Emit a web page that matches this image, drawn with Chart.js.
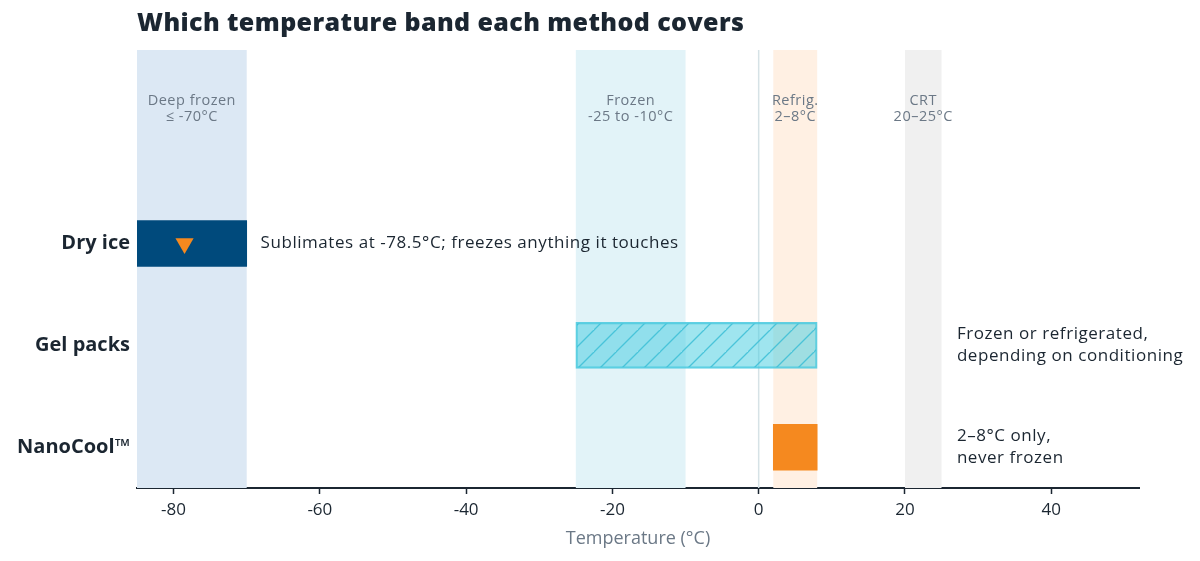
<!DOCTYPE html>
<html>
<head>
<meta charset="utf-8">
<script src="https://cdn.jsdelivr.net/npm/chart.js@4"></script>
<style>
html,body{margin:0;padding:0;background:#fff;}
#wrap{width:1200px;height:561px;position:relative;}
</style>
</head>
<body>
<div id="wrap"><canvas id="c"></canvas></div>
<script>
// ---- data ----
const titleText = "Which temperature band each method covers";
const methods = ["NanoCool™", "Gel packs", "Dry ice"];      // y = 0,1,2
const methodPos = [0, 1, 2];
const rangeMin = [2, -25, -85];
const rangeMax = [8, 8, -70];
const markerX = [-78.5];
const markerY = [2];

const bandLine1 = ["Deep frozen", "Frozen", "Refrig.", "CRT"];
const bandLine2 = ["≤ -70°C", "-25 to -10°C", "2–8°C", "20–25°C"];
const bandMin = [-85, -25, 2, 20];
const bandMax = [-70, -10, 8, 25];
const bandColors = ["#dce8f4", "#e2f3f8", "#fff0e3", "#f0f0f0"];

const noteLines = [["Sublimates at -78.5°C; freezes anything it touches"],
                   ["Frozen or refrigerated,", "depending on conditioning"],
                   ["2–8°C only,", "never frozen"]];
const noteX = [-68.1, 27.1, 27.1];
const noteY = [2, 1, 0];

const xTicks = [-80, -60, -40, -20, 0, 20, 40];
const xMin = -85, xMax = 52;

const FONT = "'Open Sans', 'DejaVu Sans', sans-serif";
const DARK = "#1b2631";
const GREY = "#6b7886";

// hatch pattern for gel packs
function makeHatch() {
  const s = 22;
  const c = document.createElement('canvas');
  c.width = s; c.height = s;
  const g = c.getContext('2d');
  g.fillStyle = "rgba(70,205,225,0.52)";
  g.fillRect(0, 0, s, s);
  g.strokeStyle = "rgba(60,190,215,0.85)";
  g.lineWidth = 1.3;
  g.beginPath();
  g.moveTo(-2, s + 2); g.lineTo(s + 2, -2);
  g.moveTo(-2 - s, s + 2); g.lineTo(2, -2);
  g.moveTo(s - 2, 2 * s + 2); g.lineTo(2 * s + 2, s - 2);
  g.stroke();
  return g.createPattern(c, 'repeat');
}
const hatch = makeHatch();

const barData = methodPos.map((p, i) => ({ y: p, x: [rangeMin[i], rangeMax[i]] }));
const markerData = markerX.map((x, i) => ({ x: x, y: markerY[i] }));

function spaced(ctx, px) { if ('letterSpacing' in ctx) ctx.letterSpacing = px + 'px'; }

const bandsPlugin = {
  id: 'bands',
  beforeDatasetsDraw(chart) {
    const { ctx, chartArea: a, scales: { x } } = chart;
    ctx.save();
    for (let i = 0; i < bandMin.length; i++) {
      const l = x.getPixelForValue(bandMin[i]);
      const r = x.getPixelForValue(bandMax[i]);
      ctx.fillStyle = bandColors[i];
      ctx.fillRect(l, a.top, r - l, a.bottom - a.top);
    }
    // zero line
    const z = x.getPixelForValue(0);
    ctx.strokeStyle = "#d6e2e6";
    ctx.lineWidth = 1.5;
    ctx.beginPath(); ctx.moveTo(z, a.top); ctx.lineTo(z, a.bottom); ctx.stroke();
    // band labels
    ctx.fillStyle = GREY;
    ctx.font = "14.5px " + FONT;
    spaced(ctx, 0.5);
    ctx.textAlign = "center";
    ctx.textBaseline = "middle";
    for (let i = 0; i < bandMin.length; i++) {
      const cx = x.getPixelForValue((bandMin[i] + bandMax[i]) / 2);
      ctx.fillText(bandLine1[i], cx, a.top + 51);
      ctx.fillText(bandLine2[i], cx, a.top + 67);
    }
    ctx.restore();
  },
  afterDraw(chart) {
    const { ctx, chartArea: a, scales: { x, y } } = chart;
    ctx.save();
    ctx.fillStyle = DARK;
    ctx.font = "17px " + FONT;
    spaced(ctx, 0.55);
    ctx.textAlign = "left";
    ctx.textBaseline = "middle";
    for (let i = 0; i < noteLines.length; i++) {
      const px = x.getPixelForValue(noteX[i]);
      const py = y.getPixelForValue(noteY[i]);
      const n = noteLines[i].length;
      noteLines[i].forEach((t, k) => {
        ctx.fillText(t, px, py + (k - (n - 1) / 2) * 22);
      });
    }
    // title
    ctx.font = "800 25px " + FONT;
    spaced(ctx, 0.4);
    ctx.fillStyle = DARK;
    ctx.fillText(titleText, a.left, 24);
    ctx.restore();
  }
};

new Chart(document.getElementById('c'), {
  type: 'bar',
  data: {
    datasets: [
      {
        type: 'scatter',
        order: 0,
        data: markerData,
        pointStyle: 'triangle',
        pointRotation: 180,
        pointRadius: 10.5,
        pointHoverRadius: 10.5,
        pointBackgroundColor: "#f5891f",
        pointBorderColor: "#f5891f",
        pointBorderWidth: 0
      },
      {
        type: 'bar',
        order: 1,
        indexAxis: 'y',
        data: barData,
        backgroundColor: ["#f5891f", hatch, "#004a7c"],
        borderColor: ["#f5891f", "rgba(70,200,222,0.85)", "#004a7c"],
        borderWidth: [0, 1.5, 0],
        barThickness: 46,
        borderSkipped: false
      }
    ]
  },
  options: {
    responsive: true,
    maintainAspectRatio: false,
    animation: false,
    indexAxis: 'y',
    layout: { padding: { top: 50, right: 61, left: 0, bottom: 0 } },
    plugins: { legend: { display: false }, tooltip: { enabled: false }, title: { display: false } },
    scales: {
      x: {
        type: 'linear',
        min: xMin, max: xMax,
        offset: false,
        beginAtZero: false,
        afterBuildTicks: (s) => { s.ticks = xTicks.map(v => ({ value: v })); },
        afterFit: (s) => { s.height = 73; },
        grid: { offset: false, drawOnChartArea: false, drawTicks: true, tickLength: 6, color: DARK, tickWidth: 1.5 },
        border: { display: true, color: DARK, width: 2 },
        ticks: { color: DARK, font: { family: FONT, size: 17 }, padding: 6, maxRotation: 0 },
        title: { display: true, text: "Temperature (°C)", color: GREY, font: { family: FONT, size: 18 }, padding: { top: 0, bottom: 11 } }
      },
      y: {
        type: 'linear',
        min: -0.4, max: 3.9,
        offset: false,
        beginAtZero: false,
        afterBuildTicks: (s) => { s.ticks = methodPos.map(v => ({ value: v })); },
        afterFit: (s) => { s.width = 137; },
        grid: { offset: false, display: false, drawTicks: false },
        border: { display: false },
        ticks: {
          color: DARK, padding: 7,
          font: { family: FONT, size: 20, weight: 'bold' },
          callback: (v) => { const i = methodPos.indexOf(v); return i >= 0 ? methods[i] : ''; }
        }
      }
    }
  },
  plugins: [bandsPlugin]
});
</script>
</body>
</html>
